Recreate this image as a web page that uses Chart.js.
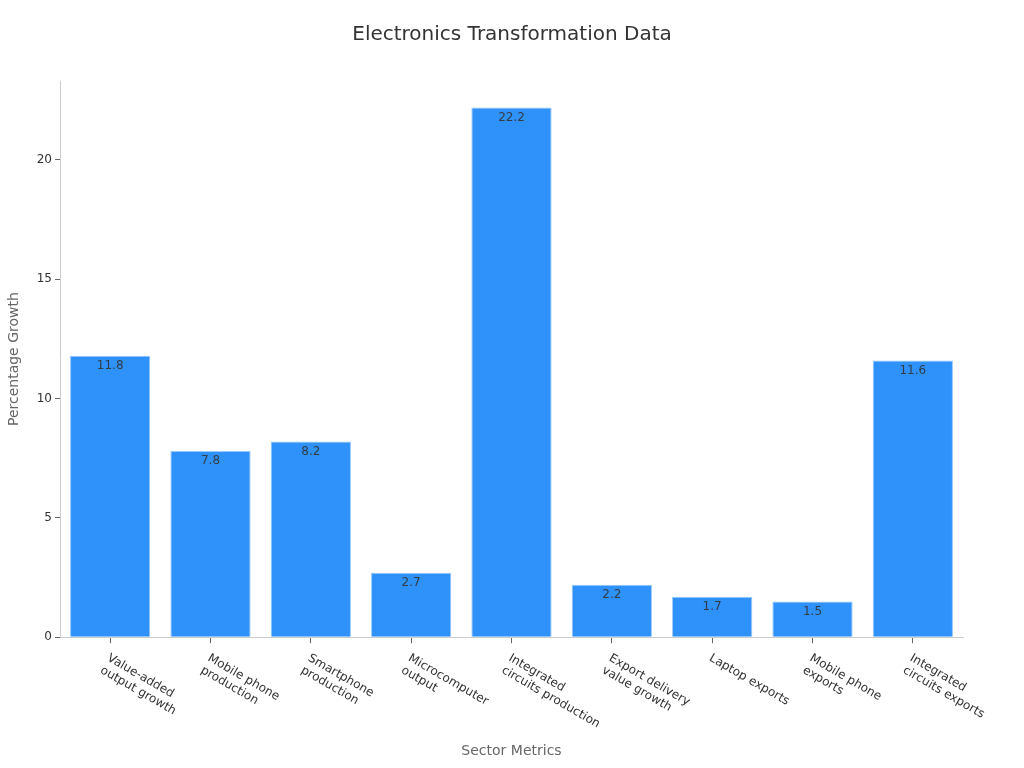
<!DOCTYPE html>
<html>
<head>
<meta charset="utf-8">
<script src="https://cdn.jsdelivr.net/npm/chart.js@4.4.0/dist/chart.umd.min.js"></script>
<style>
  html, body { margin: 0; padding: 0; background: #fff; }
  #wrap { width: 1024px; height: 768px; }
</style>
</head>
<body>
<div id="wrap"><canvas id="chart" width="1024" height="768"></canvas></div>
<script>
// data dari gambar
const kategori = [
    ["Value-added", "output growth"],
    ["Mobile phone", "production"],
    ["Smartphone", "production"],
    ["Microcomputer", "output"],
    ["Integrated", "circuits production"],
    ["Export delivery", "value growth"],
    ["Laptop exports"],
    ["Mobile phone", "exports"],
    ["Integrated", "circuits exports"]
];
const nilaiGrowth = [11.8, 7.8, 8.2, 2.7, 22.2, 2.2, 1.7, 1.5, 11.6];
const yTicks = [0, 5, 10, 15, 20];

const fontFamily = "'DejaVu Sans', sans-serif";

// tulis angka di dalam ujung bar
const labelBar = {
    id: "labelBar",
    afterDatasetsDraw(chart) {
        const ctx = chart.ctx;
        const meta = chart.getDatasetMeta(0);
        ctx.save();
        ctx.font = "12px " + fontFamily;
        ctx.fillStyle = "rgba(51, 51, 51, 0.9)";
        ctx.textAlign = "center";
        ctx.textBaseline = "middle";
        meta.data.forEach((bar, i) => {
            ctx.fillText(nilaiGrowth[i].toFixed(1), bar.x, bar.y + 10);
        });
        ctx.restore();
    }
};

// label sumbu x miring ke bawah
const labelMiring = {
    id: "labelMiring",
    afterDraw(chart) {
        const ctx = chart.ctx;
        const xs = chart.scales.x;
        ctx.save();
        ctx.font = "12px " + fontFamily;
        ctx.fillStyle = "#333";
        ctx.textAlign = "left";
        ctx.textBaseline = "top";
        kategori.forEach((baris, i) => {
            const x = xs.getPixelForTick(i);
            ctx.save();
            ctx.translate(x + 1, xs.top + 15);
            ctx.rotate(Math.PI / 6);
            baris.forEach((teks, j) => ctx.fillText(teks, 0, j * 14));
            ctx.restore();
        });
        ctx.restore();
    }
};

new Chart(document.getElementById("chart").getContext("2d"), {
    type: "bar",
    data: {
        labels: kategori,
        datasets: [{
            label: "Percentage Growth",
            data: nilaiGrowth,
            backgroundColor: "rgb(47, 146, 250)",
            borderColor: "rgba(150, 200, 250, 1)",
            borderWidth: 1,
            categoryPercentage: 1,
            barPercentage: 0.8
        }]
    },
    options: {
        responsive: false,
        animation: false,
        devicePixelRatio: 1,
        layout: { padding: 0 },
        plugins: {
            legend: { display: false },
            tooltip: { enabled: false },
            title: {
                display: true,
                text: "Electronics Transformation Data",
                color: "#333",
                font: { family: fontFamily, size: 20, weight: "normal" },
                padding: { top: 23, bottom: 34 }
            }
        },
        scales: {
            x: {
                grid: { offset: false, drawOnChartArea: false, drawTicks: true, tickLength: 6, color: "#666" },
                border: { color: "#ccc" },
                ticks: { display: false },
                title: {
                    display: true,
                    text: "Sector Metrics",
                    color: "#666",
                    font: { family: fontFamily, size: 14 },
                    padding: { top: 100, bottom: 8 }
                }
            },
            y: {
                min: 0,
                max: 23.31,
                afterBuildTicks: (scale) => { scale.ticks = yTicks.map(v => ({ value: v })); },
                afterFit: (scale) => { scale.width = 60; },
                grid: { drawOnChartArea: false, drawTicks: true, tickLength: 5, color: "#666" },
                border: { color: "#ccc" },
                ticks: {
                    color: "#333",
                    font: { family: fontFamily, size: 12 },
                    padding: 3
                },
                title: {
                    display: true,
                    text: "Percentage Growth",
                    color: "#666",
                    font: { family: fontFamily, size: 14 },
                    padding: { top: 6, bottom: 4 }
                }
            },
            // sumbu kosong di kanan, cuma buat jarak
            kanan: {
                position: "right",
                display: true,
                afterFit: (scale) => { scale.width = 61; },
                grid: { display: false },
                border: { display: false },
                ticks: { display: false }
            }
        }
    },
    plugins: [labelBar, labelMiring]
});
</script>
</body>
</html>
